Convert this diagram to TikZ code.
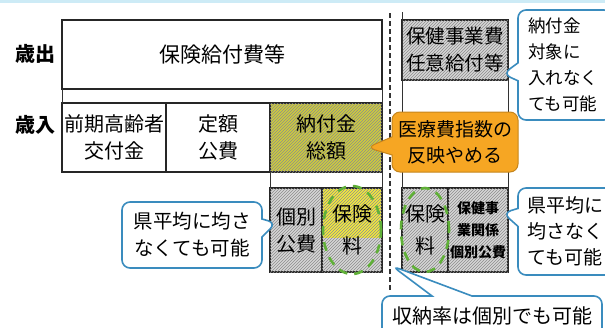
\documentclass[tikz,border=0pt]{standalone}
\usepackage{fontspec}
\setmainfont{Noto Sans CJK JP}
\usetikzlibrary{positioning,patterns,shapes.callouts}
\definecolor{olivebox}{RGB}{206,204,60}
\definecolor{yellowbox}{RGB}{244,234,60}
\definecolor{greybox}{RGB}{215,215,215}
\definecolor{noteblue}{RGB}{58,140,190}
\definecolor{noteorange}{RGB}{246,166,35}
\definecolor{loopgreen}{RGB}{96,176,56}
\definecolor{topband}{RGB}{205,235,246}
\begin{document}
\begin{tikzpicture}[x=1pt,y=1pt,
    box/.style={draw=black!85, line width=2pt, outer sep=0pt, inner sep=0pt, minimum height=69pt, align=center, font=\fontsize{20}{27}\selectfont},
    hatch/.style={fill=#1, postaction={pattern=north east lines, pattern color=black!45}},
    rowname/.style={font=\bfseries\fontsize{20}{24}\selectfont},
    note/.style={rectangle callout, draw=noteblue, line width=1.6pt, fill=white, rounded corners=8pt, inner sep=0pt, align=left, callout pointer width=18pt, font=\fontsize{19}{26}\selectfont},
    link/.style={line width=0.9pt, black!80},
    loop/.style={loopgreen, line width=2.6pt, dash pattern=on 9pt off 7pt}]
    \useasboundingbox (0,0) rectangle (605,-327);
    \fill[topband] (0,0) rectangle (605,-3);

    \node [rowname] (outname) at (36,-54) {歳出};
    \node [rowname] (inname) at (35,-125) {歳入};

    \node [box, minimum width=320pt] (out) at (222,-54.5) {\fontsize{21}{27}\selectfont 保険給付費等};
    \node [box, minimum width=104pt] (zenki) at (114,-137.5) {前期高齢者\\交付金};
    \node [box, minimum width=104pt, right=0pt of zenki] (teigaku) {定額\\公費};
    \node [box, hatch=olivebox, minimum width=112pt, right=0pt of teigaku] (noufu) {納付金\\総額};

    \node [box, hatch=greybox, minimum width=52pt, minimum height=84pt] (kobetsu) at (296,-230) {個別\\公費};
    \node [box, hatch=greybox, minimum width=60pt, minimum height=84pt, right=0pt of kobetsu,
        path picture={\fill[yellowbox] (path picture bounding box.north west) rectangle ([yshift=-50pt]path picture bounding box.north east);}] (hoken1) {保険\\[5pt]料};

    \node [box, hatch=greybox, minimum width=106pt, minimum height=60pt, font=\fontsize{19.5}{27}\selectfont] (arb) at (455,-50) {保健事業費\\任意給付等};
    \node [box, hatch=greybox, minimum width=46pt, minimum height=84pt] (hoken2) at (425,-230) {保険\\[5pt]料};
    \node [box, hatch=greybox, minimum width=60pt, minimum height=84pt, font=\bfseries\fontsize{14}{22}\selectfont, right=0pt of hoken2] (hokenji) {保健事\\業関係\\個別公費};

    \draw [link] (out.south west) -- (zenki.north west);
    \draw [link] (out.south east) -- (noufu.north east);
    \draw [link] (noufu.south west) -- (kobetsu.north west);
    \draw [link] (noufu.south east) -- (hoken1.north east);
    \coordinate (arbtop) at (402,-12);
    \draw [link] (arbtop) -- (hoken2.north west);
    \draw [link] (arb.south east) -- (hokenji.north east);

    \coordinate (divtop) at (390,-13);
    \coordinate (divbot) at (390,-290);
    \draw [line width=2pt, black!80, dash pattern=on 5pt off 3pt] (divtop) -- (divbot);

    \draw [loop] (hoken1.center) ellipse [x radius=29pt, y radius=44pt];
    \draw [loop] (hoken2.center) ellipse [x radius=24pt, y radius=42pt];

    \node [note, text width=74pt, minimum height=110pt, inner xsep=10pt, font=\fontsize{17.5}{26}\selectfont,
        callout absolute pointer={([xshift=-5pt,yshift=6pt]arb.south east)}] (notea) at (565,-65) {納付金\\対象に\\入れなく\\ても可能};
    \node [note, draw=noteorange!80!black, line width=1pt, fill=noteorange, align=center, minimum width=126pt, minimum height=60pt,
        callout absolute pointer={([xshift=-15pt,yshift=-10pt]noufu.east)}] (noteb) at (455,-142) {医療費指数の\\反映やめる};
    \node [note, align=center, minimum width=140pt, minimum height=66pt, font=\fontsize{19.5}{27}\selectfont,
        callout absolute pointer={([xshift=6pt,yshift=7pt]kobetsu.west)}] (notec) at (192,-235) {県平均に均さ\\なくても可能};
    \node [note, text width=78pt, minimum height=87pt, inner xsep=9pt,
        callout absolute pointer={([xshift=-5pt,yshift=17pt]hokenji.east)}] (noted) at (566,-231.5) {県平均に\\均さなく\\ても可能};
    \node [note, align=center, minimum width=220pt, minimum height=40pt, font=\fontsize{20}{26}\selectfont, callout pointer width=40pt,
        callout absolute pointer={([xshift=-10pt,yshift=6pt]hoken2.south west)}] (notee) at (492,-316) {収納率は個別でも可能};
\end{tikzpicture}
\end{document}
